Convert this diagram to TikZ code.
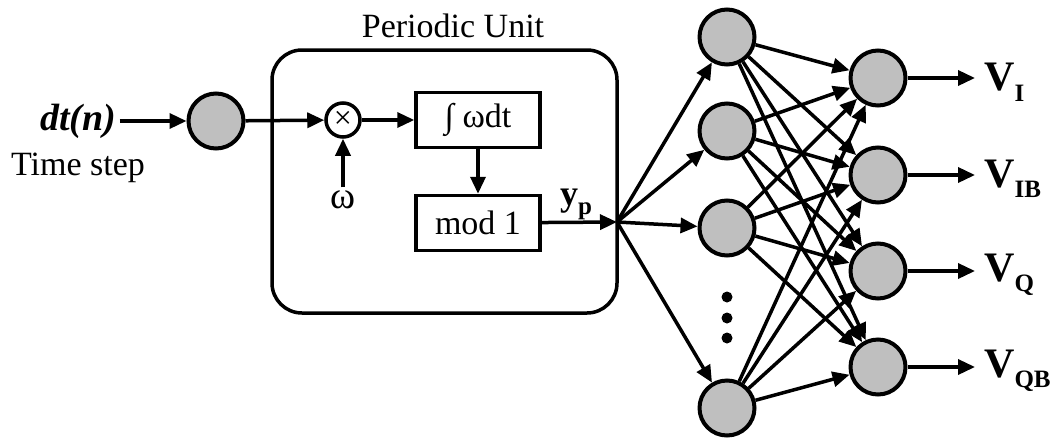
\documentclass[tikz,border=0pt]{standalone}
\usepackage{fontspec}
\setmainfont{Liberation Serif}
\usetikzlibrary{arrows.meta}

\newcommand{\lowsub}[1]{\raisebox{-0.25em}{\fontsize{25}{25}\selectfont #1}}

\tikzset{
  neuron/.style={circle,draw,line width=4pt,fill=black!25,minimum size=55pt,inner sep=0pt},
  blk/.style={draw,line width=3.5pt,minimum width=124pt,minimum height=55pt,inner sep=0pt},
  arr/.style={-{Triangle[length=17pt,width=15pt]},line width=3.5pt},
}

\begin{document}
\begin{tikzpicture}[x=1pt,y=-1pt,font=\fontsize{34}{38}\selectfont]
\useasboundingbox (0,0) rectangle (1054,437);

% input side
\node (dt) at (78,121) {\fontsize{38}{40}\selectfont\bfseries\itshape dt(n)};
\node (ts) at (78,168) {Time step};
\node (in) [neuron] at (216,121) {};

% periodic unit
\node (pu) [draw,line width=3.5pt,rounded corners=30pt,minimum width=345pt,minimum height=263pt] at (444.5,181.5) {};
\node (put) at (453,26) {Periodic Unit};
\node (mult) [circle,draw,line width=3.5pt,minimum size=34pt,inner sep=0pt] at (343,120) {\fontsize{32}{32}\selectfont ×};
\node (om) at (343,200) {\fontsize{38}{38}\selectfont ω};
\node (integ) [blk] at (478,120) {∫ ωdt};
\node (modbox) [blk] at (478,223) {mod 1};
\node (yp) at (576,204) {\fontsize{36}{38}\selectfont\bfseries y\lowsub{p}};
\coordinate (jn) at (617,222);

\path[arr] (dt) edge (in) (in) edge (mult) (om) edge (mult) (mult) edge (integ)
  (integ) edge (modbox) (modbox) edge (jn);

% hidden layer
\node (h1) [neuron] at (727,37) {};
\node (h2) [neuron] at (727,131) {};
\node (h3) [neuron] at (727,228) {};
\node (h4) [neuron] at (727,408) {};
\foreach \y in {297,318,338}
  \fill (727,\y) circle (5.5pt);

% output layer
\node (o1) [neuron] at (878,78) {};
\node (o2) [neuron] at (878,175) {};
\node (o3) [neuron] at (878,271) {};
\node (o4) [neuron] at (878,367) {};

\foreach \i in {1,...,4} {
  \draw[arr] (jn) -- (h\i);
  \foreach \j in {1,...,4}
    \draw[arr] (h\i) -- (o\j);
}

% outputs
\coordinate (e1) at (975,78);
\coordinate (e2) at (975,175);
\coordinate (e3) at (975,271);
\coordinate (e4) at (975,367);
\foreach \j/\lab in {1/I,2/IB,3/Q,4/QB} {
  \draw[arr] (o\j) -- (e\j);
  \node (v\j) [anchor=west,inner sep=0pt] at ([xshift=9pt,yshift=-4pt]e\j) {\fontsize{42}{44}\selectfont\bfseries V\lowsub{\lab}};
}

\end{tikzpicture}
\end{document}
